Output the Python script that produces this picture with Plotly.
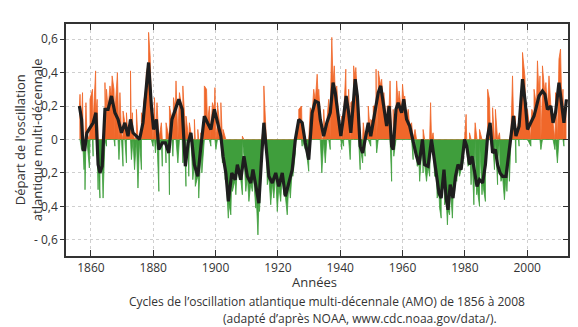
import plotly.graph_objects as go

# Smoothed AMO index (black curve)
smooth_years = [1856.3,1857,1857.5,1858,1858.7,1859.7,1860.7,1861.6,1862.3,1862.9,1863.6,1864.5,1865.5,1866.6,1867.7,1868.7,1869.8,1870.9,1871.9,1872.7,1873.5,1874.6,1875.6,1876.7,1877.6,1878.5,1879.4,1880.1,1881,1881.8,1882.9,1883.9,1885,1886,1887.1,1888.2,1889.3,1890.3,1891.2,1892.1,1893.2,1894.3,1895.3,1896.4,1897.4,1898.5,1899.6,1900.6,1901.7,1902.4,1903.3,1904.1,1905.2,1906.3,1907,1908.1,1909.1,1910.2,1911.3,1912,1912.9,1913.9,1914.8,1915.5,1916.3,1917.1,1918.2,1919.3,1920.3,1921.4,1922.4,1923.5,1924.6,1925.6,1926.7,1927.8,1928.8,1929.9,1931,1932,1933,1933.6,1934.7,1935.7,1936.8,1937.7,1938.4,1939.5,1940.2,1941.1,1941.9,1942.7,1943.4,1944.3,1944.8,1945.5,1946.4,1947.2,1948,1949,1949.8,1950.6,1951.5,1952.2,1953,1953.8,1954.9,1955.7,1956.5,1957,1957.9,1958.6,1959.7,1960.4,1961.3,1962.3,1963.4,1964.5,1965.3,1966.4,1967.1,1968.2,1969.3,1970,1970.9,1971.7,1972.4,1973.3,1974,1974.6,1975.3,1976.2,1977,1977.8,1978.8,1979.9,1980.6,1981.5,1982.3,1983.1,1983.9,1984.7,1985.7,1986.6,1987.3,1988.1,1988.9,1989.8,1990.5,1991.3,1992.1,1993.2,1994,1994.8,1995.6,1996.4,1997.4,1998.5,1999.4,2000.1,2001.2,2002.2,2003,2003.8,2004.9,2005.7,2006.5,2007.6,2008.3,2009.1,2010.2,2011.1,2011.8,2012.6]
smooth_vals = [0.20,0.12,-0.06,-0.06,0.04,0.07,0.10,0.16,-0.15,-0.20,-0.16,0.18,0.18,0.26,0.16,0.12,0.04,0.10,0.02,0.12,0.04,0.02,0.00,0.10,0.30,0.46,0.20,0.06,0.12,-0.06,-0.02,-0.02,-0.08,0.12,0.18,0.24,0.18,-0.16,-0.02,0.04,-0.15,-0.22,-0.04,0.14,0.10,0.06,0.18,0.10,0.02,-0.10,-0.20,-0.37,-0.20,-0.24,-0.15,-0.24,-0.10,-0.22,-0.26,-0.18,-0.28,-0.38,-0.10,0.10,-0.06,-0.22,-0.26,-0.20,-0.28,-0.20,-0.34,-0.26,-0.18,0.00,0.12,0.10,-0.02,-0.12,0.16,0.23,0.22,0.12,0.02,0.10,0.16,0.34,0.28,0.12,0.02,0.14,0.26,0.16,0.04,0.24,0.36,0.26,-0.04,-0.08,0.00,0.10,0.02,0.10,0.20,0.28,0.32,0.22,0.08,0.20,-0.04,-0.06,0.18,0.22,0.16,0.24,0.12,0.08,-0.02,-0.10,-0.15,0.00,-0.15,-0.16,0.00,-0.10,-0.22,-0.32,-0.35,-0.18,-0.35,-0.42,-0.27,-0.35,-0.22,-0.15,-0.18,0.00,-0.04,-0.15,-0.10,-0.20,-0.28,-0.24,-0.26,-0.15,0.02,0.10,-0.08,-0.06,-0.15,-0.20,-0.22,-0.22,-0.10,0.04,0.14,0.02,0.08,0.36,0.22,0.06,0.10,0.14,0.20,0.26,0.29,0.27,0.18,0.20,0.10,0.16,0.34,0.22,0.10,0.24]

# Monthly peaks above zero (orange spikes)
up_years = [1856.5,1857.3,1858.4,1859.7,1860.5,1861.5,1862.0,1864.5,1865.0,1866.1,1866.8,1867.4,1868.5,1869.3,1870.3,1871.4,1872.7,1873.3,1874.6,1876.2,1876.9,1877.8,1878.5,1879.0,1880.4,1881.2,1882.6,1884.1,1885.2,1886.5,1887.3,1888.4,1889.5,1890.5,1891.6,1893.2,1894.3,1895.3,1896.4,1897.1,1898.0,1899.0,1899.8,1900.6,1901.7,1902.4,1908.6,1915.5,1926.7,1927.6,1930.4,1931.5,1932.6,1933.1,1934.7,1936.3,1937.3,1938.1,1938.9,1940.5,1941.8,1942.7,1943.4,1944.3,1945.0,1945.9,1947.4,1949.0,1949.8,1950.6,1951.5,1952.2,1953.3,1954.0,1955.1,1956.0,1957.0,1958.1,1958.9,1960.0,1960.7,1961.8,1962.9,1964.0,1966.6,1969.0,1969.8,1980.4,1981.5,1983.3,1984.7,1987.3,1987.9,1988.9,1989.8,1991.1,1995.3,1996.2,1997.2,1998.5,1999.3,2000.1,2001.5,2002.2,2003.3,2004.1,2004.9,2006.0,2007.0,2008.1,2009.1,2010.2,2010.7,2011.5,2012.3]
up_vals = [0.27,0.28,0.22,0.24,0.30,0.41,0.24,0.34,0.30,0.32,0.38,0.30,0.40,0.28,0.17,0.16,0.41,0.16,0.18,0.16,0.22,0.40,0.64,0.50,0.25,0.22,0.10,0.10,0.20,0.25,0.35,0.28,0.32,0.14,0.10,0.12,0.06,0.04,0.32,0.30,0.20,0.22,0.31,0.22,0.22,0.06,0.02,0.32,0.18,0.20,0.19,0.30,0.39,0.30,0.18,0.24,0.61,0.44,0.32,0.14,0.42,0.30,0.22,0.44,0.43,0.20,0.10,0.20,0.12,0.20,0.42,0.41,0.36,0.28,0.20,0.35,0.18,0.35,0.29,0.33,0.26,0.18,0.10,0.06,0.06,0.22,0.04,0.15,0.04,0.10,0.06,0.30,0.24,0.19,0.18,0.04,0.38,0.14,0.10,0.52,0.37,0.18,0.18,0.30,0.47,0.38,0.44,0.34,0.38,0.18,0.28,0.48,0.54,0.30,0.20]

# Monthly troughs below zero (green spikes)
down_years = [1857.0,1857.8,1858.1,1859.5,1860.7,1862.3,1862.9,1863.9,1865.0,1867.7,1869.0,1870.3,1871.4,1873.0,1874.0,1875.1,1876.2,1879.9,1880.7,1881.8,1882.9,1884.1,1885.2,1886.3,1887.9,1889.5,1890.5,1891.4,1892.7,1893.5,1894.6,1895.6,1898.5,1900.1,1902.2,1903.1,1904.1,1904.9,1905.4,1906.5,1907.6,1908.6,1909.7,1910.7,1911.8,1912.9,1913.6,1914.1,1916.6,1917.7,1918.7,1919.8,1920.9,1921.9,1923.0,1924.0,1924.8,1925.6,1927.8,1928.8,1929.9,1934.1,1935.2,1936.8,1940.5,1941.1,1943.2,1946.4,1947.2,1948.0,1949.8,1951.7,1956.5,1957.2,1963.4,1964.7,1965.5,1966.6,1967.7,1968.7,1970.3,1971.1,1971.9,1972.4,1973.5,1974.4,1975.1,1976.0,1976.7,1977.4,1978.3,1979.4,1981.0,1982.0,1982.9,1983.8,1984.7,1985.5,1986.6,1989.5,1990.5,1991.6,1992.7,1993.5,1994.3,1996.4,1997.4,2001.2,2004.4,2008.9,2009.7,2011.8]
down_vals = [-0.06,-0.18,-0.30,-0.17,-0.10,-0.30,-0.35,-0.35,-0.04,-0.04,-0.12,-0.16,-0.14,-0.12,-0.18,-0.29,-0.18,-0.04,-0.08,-0.31,-0.16,-0.14,-0.33,-0.10,-0.14,-0.14,-0.28,-0.22,-0.24,-0.28,-0.35,-0.20,-0.04,-0.06,-0.14,-0.24,-0.47,-0.45,-0.31,-0.33,-0.24,-0.33,-0.31,-0.37,-0.31,-0.41,-0.57,-0.43,-0.27,-0.39,-0.35,-0.43,-0.37,-0.33,-0.45,-0.35,-0.22,-0.08,-0.04,-0.06,-0.19,-0.20,-0.14,-0.06,-0.06,-0.04,-0.12,-0.18,-0.14,-0.10,-0.04,-0.08,-0.25,-0.10,-0.12,-0.16,-0.25,-0.20,-0.25,-0.22,-0.22,-0.35,-0.41,-0.47,-0.39,-0.51,-0.45,-0.47,-0.31,-0.25,-0.22,-0.14,-0.16,-0.27,-0.39,-0.33,-0.40,-0.33,-0.37,-0.18,-0.27,-0.25,-0.36,-0.31,-0.25,-0.14,-0.04,-0.04,-0.06,-0.06,-0.14,-0.04]

y_ticks = [-0.6, -0.4, -0.2, 0, 0.2, 0.4, 0.6]
y_ticktext = ["- 0,6", "- 0,4", "- 0,2", "0", "0,2", "0,4", "0,6"]
x_ticks = [1860, 1880, 1900, 1920, 1940, 1960, 1980, 2000]

raw = sorted(zip(smooth_years + up_years + down_years, smooth_vals + up_vals + down_vals))
raw_x = [p[0] for p in raw]
raw_y = [p[1] for p in raw]
pos_y = [max(v, 0) for v in raw_y]
neg_y = [min(v, 0) for v in raw_y]

ORANGE = "#F0672A"
GREEN = "#3F9E3C"
FONT = "Open Sans"
TXT = "#333333"

fig = go.Figure()
fig.add_trace(go.Scatter(x=raw_x, y=pos_y, mode="lines", fill="tozeroy",
                         fillcolor=ORANGE, line=dict(color=ORANGE, width=0.8),
                         hoverinfo="skip", showlegend=False))
fig.add_trace(go.Scatter(x=raw_x, y=neg_y, mode="lines", fill="tozeroy",
                         fillcolor=GREEN, line=dict(color=GREEN, width=0.8),
                         hoverinfo="skip", showlegend=False))
fig.add_trace(go.Scatter(x=smooth_years, y=smooth_vals, mode="lines",
                         line=dict(color="#1e1e1e", width=3.2),
                         hoverinfo="skip", showlegend=False))
# invisible trace for the right-hand tick axis
fig.add_trace(go.Scatter(x=[1900], y=[0], yaxis="y2", mode="markers",
                         marker=dict(opacity=0), hoverinfo="skip", showlegend=False))

yr = [-0.696, 0.69]
fig.update_layout(
    width=578, height=327,
    margin=dict(l=66, r=8, t=24, b=71),
    paper_bgcolor="white", plot_bgcolor="white",
    font=dict(family=FONT, size=12, color=TXT),
    xaxis=dict(range=[1852.0, 2013.1], tickvals=x_ticks, ticks="inside", ticklen=6,
               tickcolor="#333", showline=True, linecolor="#333", linewidth=1.5,
               mirror="ticks", showgrid=True, gridcolor="#cfcfcf", griddash="3px,3px",
               gridwidth=1, zeroline=False, tickfont=dict(size=12, color=TXT)),
    yaxis=dict(range=yr, tickvals=y_ticks, ticktext=y_ticktext, ticks="outside",
               ticklen=4, tickcolor="#333", showline=True, linecolor="#333", linewidth=1.5,
               mirror=True, showgrid=True, gridcolor="#cfcfcf", griddash="3px,3px",
               gridwidth=1, zeroline=False, tickfont=dict(size=12, color=TXT)),
    yaxis2=dict(range=yr, tickvals=y_ticks, overlaying="y", side="right",
                ticks="inside", ticklen=5, tickcolor="#333", showticklabels=False,
                showgrid=False, zeroline=False, showline=False),
)

def px(xp):
    return (xp - 66) / 504.0

def py(yp):
    return (256 - yp) / 232.0

def note(text, x, y, size=12, angle=0):
    fig.add_annotation(text=text, x=px(x), y=py(y), xref="paper", yref="paper",
                       xanchor="center", yanchor="middle", textangle=angle,
                       showarrow=False, font=dict(size=size, color=TXT), align="center")

note("Départ de l'oscillation<br>atlantique multi-décennale", 28, 140, size=13, angle=-90)
note("Années", 315, 282, size=13)
note("Cycles de l\u2019oscillation atlantique multi-décennale (AMO) de 1856 à 2008", 328, 301)
note("(adapté d\u2019après NOAA, www.cdc.noaa.gov/data/).", 361, 318)

fig.write_html("out.html")
